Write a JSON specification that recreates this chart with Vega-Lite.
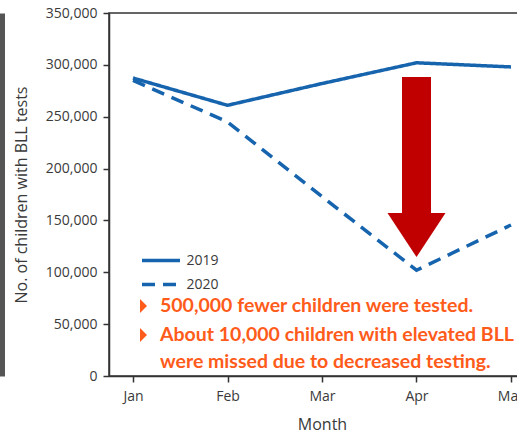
{
  "$schema": "https://vega.github.io/schema/vega-lite/v6.json",
  "autosize": {"type": "none"},
  "padding": {"left": 109, "top": 13, "right": 0, "bottom": 58},
  "width": 426,
  "height": 363,
  "background": "white",
  "config": {
    "view": {"stroke": "#333", "strokeWidth": 1.5},
    "font": "Open Sans"
  },
  "resolve": {"axis": {"y": "independent"}},
  "datasets": {
    "tests": [
      {"month": "Jan", "year": "2019", "value": 287300},
      {"month": "Feb", "year": "2019", "value": 261000},
      {"month": "Mar", "year": "2019", "value": 282000},
      {"month": "Apr", "year": "2019", "value": 302000},
      {"month": "May", "year": "2019", "value": 298000},
      {"month": "Jan", "year": "2020", "value": 285000},
      {"month": "Feb", "year": "2020", "value": 245000},
      {"month": "Mar", "year": "2020", "value": 173000},
      {"month": "Apr", "year": "2020", "value": 102000},
      {"month": "May", "year": "2020", "value": 145600}
    ],
    "arrow": [
      {"month": "Apr", "top": 288300, "bottom": 157200}
    ],
    "notes": [
      {"month": "Jan", "pos": 67500, "text": "500,000 fewer children were tested.", "bullet": true},
      {"month": "Jan", "pos": 39500, "text": "About 10,000 children with elevated BLL", "bullet": true},
      {"month": "Jan", "pos": 13500, "text": "were missed due to decreased testing.", "bullet": false}
    ]
  },
  "encoding": {
    "x": {
      "field": "month",
      "type": "ordinal",
      "sort": ["Jan", "Feb", "Mar", "Apr", "May"],
      "scale": {"type": "point", "domain": ["Jan", "Feb", "Mar", "Apr", "May"], "padding": 0.254},
      "axis": {
        "title": "Month",
        "labelAngle": 0,
        "labelFontSize": 14,
        "labelColor": "#3a3a3a",
        "labelPadding": 7,
        "titleFontSize": 16,
        "titleFontWeight": "normal",
        "titleColor": "#3a3a3a",
        "titlePadding": 13,
        "domainColor": "#333",
        "domainWidth": 1.5,
        "tickColor": "#333",
        "tickWidth": 1.5,
        "tickSize": 6,
        "grid": false
      }
    }
  },
  "layer": [
    {
      "data": {"name": "tests"},
      "mark": {"type": "line", "strokeWidth": 3.5, "color": "#1764AE"},
      "encoding": {
        "y": {
          "field": "value",
          "type": "quantitative",
          "scale": {"domain": [0, 350000], "nice": false},
          "axis": {
            "title": "No. of children with BLL tests",
            "values": [0, 50000, 100000, 150000, 200000, 250000, 300000, 350000],
            "format": ",d",
            "labelFontSize": 14,
            "labelColor": "#3a3a3a",
            "labelPadding": 6,
            "titleFontSize": 16,
            "titleFontWeight": "normal",
            "titleColor": "#3a3a3a",
            "titleX": -80,
            "domainColor": "#333",
            "domainWidth": 1.5,
            "tickColor": "#333",
            "tickWidth": 1.5,
            "tickSize": 6,
            "grid": false
          }
        },
        "strokeDash": {
          "field": "year",
          "type": "nominal",
          "scale": {"domain": ["2019", "2020"], "range": [[1, 0], [13, 8]]},
          "legend": {
            "title": null,
            "orient": "none",
            "legendX": 40.5,
            "legendY": 236,
            "padding": 0,
            "symbolType": "M-2,0L2,0",
            "symbolSize": 361,
            "symbolStrokeWidth": 3.5,
            "symbolStrokeColor": "#1764AE",
            "labelFontSize": 14,
            "labelColor": "#3a3a3a",
            "labelOffset": 14,
            "rowPadding": 5,
            "encode": {
              "symbols": {
                "update": {
                  "strokeDash": {"signal": "datum.value === '2020' ? [17, 4] : [1, 0]"}
                }
              }
            }
          }
        }
      }
    },
    {
      "data": {"name": "arrow"},
      "mark": {"type": "rule", "strokeWidth": 29, "strokeCap": "butt", "color": "#C00000"},
      "encoding": {
        "y": {
          "field": "top",
          "type": "quantitative",
          "axis": {
            "orient": "left",
            "offset": 107,
            "title": null,
            "labels": false,
            "ticks": false,
            "grid": false,
            "domainColor": "#555",
            "domainWidth": 5
          }
        },
        "y2": {"field": "bottom"}
      }
    },
    {
      "data": {"name": "arrow"},
      "mark": {"type": "point", "shape": "M-1,0L1,0L0,1.52Z", "size": 3364, "filled": true, "opacity": 1, "color": "#C00000"},
      "encoding": {
        "y": {"field": "bottom", "type": "quantitative", "axis": null}
      }
    },
    {
      "data": {"name": "notes"},
      "transform": [{"filter": "datum.bullet"}],
      "mark": {"type": "point", "shape": "M-0.5,-1L0.5,0L-0.5,1Z", "size": 196, "filled": true, "opacity": 1, "color": "#FF5B1A"},
      "encoding": {
        "y": {"field": "pos", "type": "quantitative", "axis": null},
        "xOffset": {"value": 10.5}
      }
    },
    {
      "data": {"name": "notes"},
      "mark": {"type": "text", "align": "left", "baseline": "middle", "dx": 27, "font": "Lato", "fontWeight": "bold", "fontSize": 19.5, "color": "#FF5B1A"},
      "encoding": {
        "y": {"field": "pos", "type": "quantitative", "axis": null},
        "text": {"field": "text"}
      }
    }
  ]
}
